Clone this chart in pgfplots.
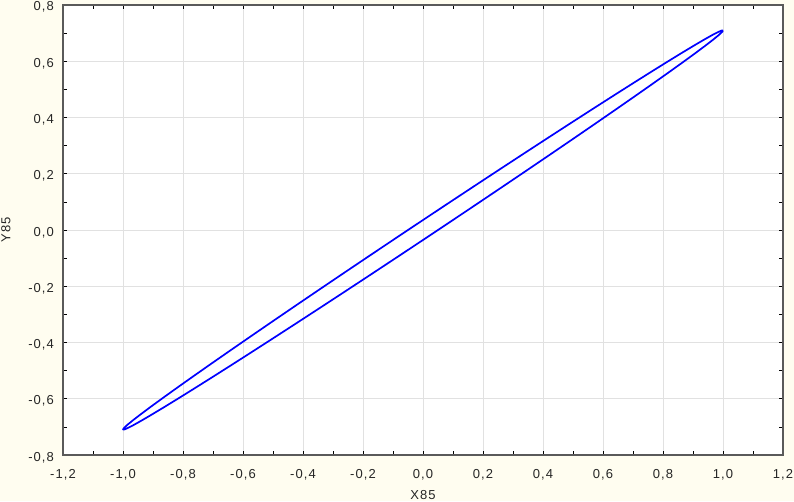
\documentclass[border=0pt]{standalone}
\usepackage{pgfplots}
\pgfplotsset{compat=1.18}
\usepackage{fontspec}
\setmainfont{Liberation Sans}
\newfontfamily\lblfont[LetterSpace=8]{Liberation Sans}
\definecolor{cream}{RGB}{255,253,240}
\definecolor{axgray}{RGB}{90,90,90}
\definecolor{gridgray}{RGB}{225,225,225}
\begin{document}
\begin{tikzpicture}
\useasboundingbox (-63pt,-46pt) rectangle (731pt,455pt);
\fill[cream] (-63pt,-46pt) rectangle (731pt,455pt);
\begin{axis}[
  at={(0pt,0pt)}, anchor=south west,
  width=720pt, height=450pt, scale only axis,
  axis background/.style={fill=white},
  xmin=-1.2, xmax=1.2, ymin=-0.8, ymax=0.8,
  xtick={-1.2,-1.0,-0.8,-0.6,-0.4,-0.2,0,0.2,0.4,0.6,0.8,1.0,1.2},
  ytick={-0.8,-0.6,-0.4,-0.2,0,0.2,0.4,0.6,0.8},
  minor tick num=1,
  tick align=inside,
  major tick length=4pt, minor tick length=4pt,
  tick style={black, line width=0.7pt},
  grid=major,
  major grid style={gridgray, line width=0.7pt},
  axis line style={axgray, line width=1.3pt},
  /pgf/number format/assume math mode=true,
  /pgf/number format/.cd, fixed, fixed zerofill, precision=1, use comma,
  /pgfplots/.cd,
  ticklabel style={font=\lblfont\fontsize{13}{15}\selectfont, text=black!85},
  xticklabel style={anchor=base, yshift=-23.3pt, inner sep=0pt},
  yticklabel style={anchor=base east, yshift=-6pt, xshift=-9pt, inner sep=0pt},
  xlabel={X85}, ylabel={Y85},
  every axis x label/.style={at={(axis description cs:0.5,0)}, anchor=base, yshift=-44.5pt, inner sep=0pt, font=\lblfont\fontsize{13}{15}\selectfont, text=black!85},
  every axis y label/.style={at={(axis description cs:0,0.5)}, anchor=base, xshift=-52.5pt, rotate=90, inner sep=0pt, font=\lblfont\fontsize{13}{15}\selectfont, text=black!85},
]
\addplot[blue, line width=1.7pt, line join=round, mark=none] coordinates {
(1,0.70911) (0.99619,0.70950) (0.98481,0.70450) (0.96593,0.69413) (0.93969,0.67848)
(0.90631,0.65767) (0.86603,0.63185) (0.81915,0.60122) (0.76604,0.56602) (0.70711,0.52651)
(0.64279,0.48299) (0.57358,0.43580) (0.5,0.38529) (0.42262,0.33185) (0.34202,0.27588)
(0.25882,0.21781) (0.17365,0.15809) (0.08716,0.09716) (0,0.03549)
(-0.08716,-0.02646) (-0.17365,-0.08819) (-0.25882,-0.14925) (-0.34202,-0.20918)
(-0.42262,-0.26753) (-0.5,-0.32383) (-0.57358,-0.37766) (-0.64279,-0.42863)
(-0.70711,-0.47633) (-0.76604,-0.52040) (-0.81915,-0.56052) (-0.86603,-0.59637)
(-0.90631,-0.62767) (-0.93969,-0.65420) (-0.96593,-0.67577) (-0.98481,-0.69218)
(-0.99619,-0.70332) (-1,-0.70911)
(-0.99619,-0.70950) (-0.98481,-0.70450) (-0.96593,-0.69413) (-0.93969,-0.67848)
(-0.90631,-0.65767) (-0.86603,-0.63185) (-0.81915,-0.60122) (-0.76604,-0.56602)
(-0.70711,-0.52651) (-0.64279,-0.48299) (-0.57358,-0.43580) (-0.5,-0.38529)
(-0.42262,-0.33185) (-0.34202,-0.27588) (-0.25882,-0.21781) (-0.17365,-0.15809)
(-0.08716,-0.09716) (0,-0.03549)
(0.08716,0.02646) (0.17365,0.08819) (0.25882,0.14925) (0.34202,0.20918)
(0.42262,0.26753) (0.5,0.32383) (0.57358,0.37766) (0.64279,0.42863)
(0.70711,0.47633) (0.76604,0.52040) (0.81915,0.56052) (0.86603,0.59637)
(0.90631,0.62767) (0.93969,0.65420) (0.96593,0.67577) (0.98481,0.69218)
(0.99619,0.70332) (1,0.70911)
};
\end{axis}
\end{tikzpicture}
\end{document}
